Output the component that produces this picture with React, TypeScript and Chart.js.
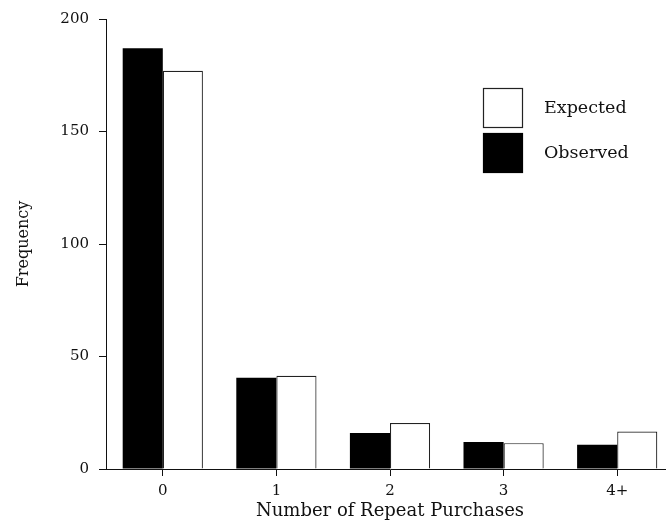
import React, { useEffect, useRef } from "react";
import { Chart, registerables } from "chart.js";

Chart.register(...registerables);

const categories = ["0", "1", "2", "3", "4+"];
const observed = [187, 40.6, 16, 12, 10.8];
const expected = [177, 41.4, 20.4, 11.5, 16.7];
const yMin = 0;
const yMax = 200;
const yStep = 50;

const FONT = "'DejaVu Serif', serif";
const INK = "#111";

const boxLegend = {
  id: "boxLegend",
  afterDraw(chart: any, _args: any, opts: any) {
    const ctx = chart.ctx;
    const items = [...chart.data.datasets].reverse();
    ctx.save();
    items.forEach((ds: any, i: number) => {
      const x = opts.x;
      const y = opts.y + i * opts.rowGap;
      ctx.fillStyle = ds.backgroundColor;
      ctx.fillRect(x, y, opts.box, opts.box);
      ctx.strokeStyle = ds.borderColor;
      ctx.lineWidth = 1.2;
      ctx.strokeRect(x + 0.5, y + 0.5, opts.box - 1, opts.box - 1);
      ctx.fillStyle = INK;
      ctx.font = `${opts.fontSize}px ${FONT}`;
      ctx.textBaseline = "middle";
      ctx.textAlign = "left";
      ctx.fillText(ds.label, opts.textX, y + opts.box / 2);
    });
    ctx.restore();
  },
};

export default function App() {
  const ref = useRef<HTMLCanvasElement | null>(null);

  useEffect(() => {
    document.body.style.margin = "0";
    const canvas = ref.current!;
    const chart = new Chart(canvas, {
      type: "bar",
      data: {
        labels: categories,
        datasets: [
          {
            label: "Observed",
            data: observed,
            backgroundColor: "#000",
            borderColor: "#000",
            borderWidth: 0,
          },
          {
            label: "Expected",
            data: expected,
            backgroundColor: "#fff",
            borderColor: "#222",
            borderWidth: 1.2,
          },
        ],
      },
      options: {
        animation: false,
        responsive: false,
        devicePixelRatio: 1,
        layout: { padding: { top: 18, left: 0, right: 0, bottom: 0 } },
        datasets: {
          bar: { categoryPercentage: 0.706, barPercentage: 1 },
        },
        plugins: {
          legend: { display: false },
          tooltip: { enabled: false },
          boxLegend: {
            x: 483,
            y: 88,
            box: 40,
            rowGap: 45,
            textX: 544,
            fontSize: 17.5,
          },
        } as any,
        scales: {
          x: {
            type: "category",
            offset: true,
            grid: {
              display: true,
              drawOnChartArea: false,
              drawTicks: true,
              tickLength: 7,
              color: INK,
              lineWidth: 1,
              offset: false,
            },
            border: { display: true, color: INK, width: 1 },
            ticks: {
              color: INK,
              font: { family: FONT, size: 15 },
              padding: 6,
            },
            title: {
              display: true,
              text: "Number of Repeat Purchases",
              color: INK,
              font: { family: FONT, size: 18 },
              padding: { top: 0, bottom: 2 },
            },
            afterFit: (s: any) => {
              s.height = 55;
            },
          },
          y: {
            type: "linear",
            min: yMin,
            max: yMax,
            grid: {
              display: true,
              drawOnChartArea: false,
              drawTicks: true,
              tickLength: 7,
              color: INK,
              lineWidth: 1,
            },
            border: { display: true, color: INK, width: 1 },
            ticks: {
              stepSize: yStep,
              color: INK,
              font: { family: FONT, size: 15 },
              padding: 10,
            },
            title: {
              display: true,
              text: "Frequency",
              color: INK,
              font: { family: FONT, size: 16 },
              padding: { top: 14, bottom: 0 },
            },
            afterFit: (s: any) => {
              s.width = 106;
            },
          },
        },
      },
      plugins: [boxLegend as any],
    });
    return () => chart.destroy();
  }, []);

  return (
    <div
      style={{
        position: "fixed",
        left: 0,
        top: 0,
        width: 666,
        height: 524,
        overflow: "hidden",
        background: "#fff",
      }}
    >
      <canvas ref={ref} width={674} height={524} style={{ display: "block" }} />
    </div>
  );
}
